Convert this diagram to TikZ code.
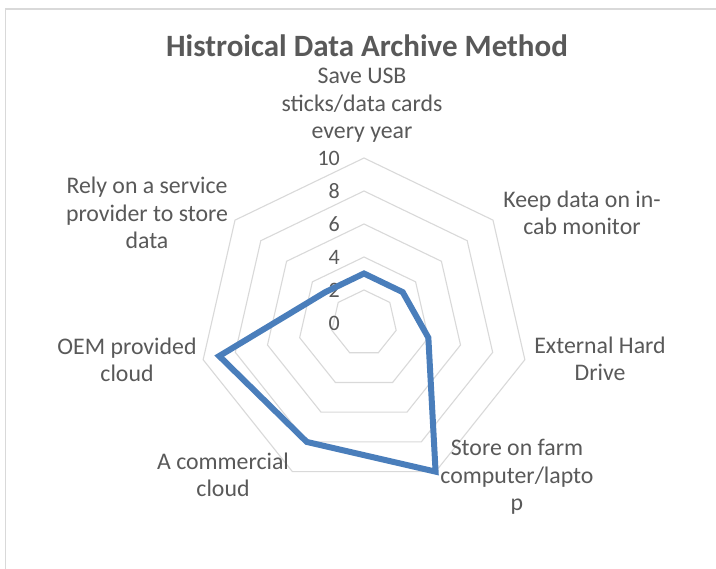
\documentclass[tikz,border=0pt]{standalone}
\usepackage{fontspec}
\setmainfont{Carlito}
\usetikzlibrary{calc}
\definecolor{txt}{HTML}{595959}
\definecolor{gridc}{HTML}{D9D9D9}
\definecolor{serc}{HTML}{4A7EBB}
\tikzset{
  ring/.style={draw=gridc, line width=1.1pt},
  frameline/.style={draw=gridc, line width=1.6pt},
  series/.style={draw=serc, line width=6pt, line join=miter},
  catlabel/.style={text=txt, font=\fontsize{23.8}{27.5}\selectfont, align=center, inner sep=0pt, anchor=base},
  numlabel/.style={text=txt, font=\fontsize{22}{26}\selectfont, inner sep=0pt, anchor=east},
  titlelabel/.style={text=txt, font=\fontsize{31}{36}\selectfont\bfseries, inner sep=0pt, anchor=base},
}
\begin{document}
\begin{tikzpicture}[x=1pt,y=-1pt]
\useasboundingbox[fill=white] (0,0) rectangle (716,569);
% chart frame (only top and left edges visible)
\draw[frameline] (5.5,569) -- (5.5,9) -- (716,9);
\coordinate (C) at (364,323);
% grid rings
\foreach \v in {2,4,6,8,10}{
  \draw[ring] ($(C)+(-90:{16.5*\v})$)
    \foreach \k in {1,...,6}{ -- ($(C)+({-90+\k*360/7}:{16.5*\v})$) } -- cycle;
}
% value labels
\foreach \v in {0,2,4,6,8,10}{
  \node[numlabel] (n\v) at (340,{323-16.5*\v}) {\v};
}
% data points
\foreach \k/\val in {0/3,1/3,2/4,3/10,4/8,5/9,6/3}{
  \coordinate (d\k) at ($(C)+({-90+\k*360/7}:{16.5*\val})$);
}
\draw[series] (d0) -- (d1) -- (d2) -- (d3) -- (d4) -- (d5) -- (d6) -- cycle;
% title
\node[titlelabel] (title) at (367,57) {Histroical Data Archive Method};
% category labels (anchor = baseline of last line)
\node[catlabel] (c0) at (362,139) {Save USB\\sticks/data cards\\every year};
\node[catlabel] (c1) at (582,235) {Keep data on in-\\cab monitor};
\node[catlabel] (c2) at (600,381) {External Hard\\Drive};
\node[catlabel] (c3) at (517,511) {Store on farm\\computer/lapto\\p};
\node[catlabel] (c4) at (223,497) {A commercial\\cloud};
\node[catlabel] (c5) at (127,382) {OEM provided\\cloud};
\node[catlabel] (c6) at (147,249) {Rely on a service\\provider to store\\data};
\end{tikzpicture}
\end{document}
